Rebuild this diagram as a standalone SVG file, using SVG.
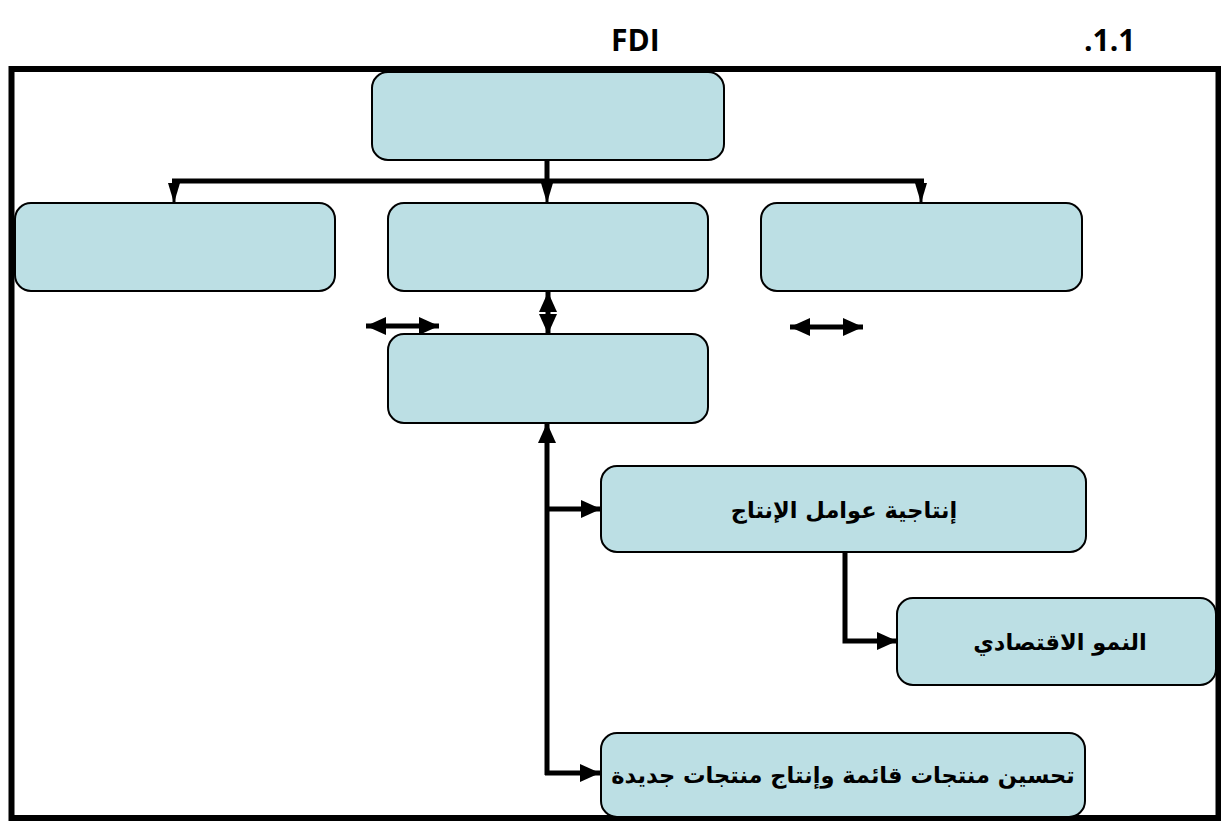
<svg xmlns="http://www.w3.org/2000/svg" width="1221" height="821" viewBox="0 0 1221 821">
<style>
.box{fill:#BCDFE4;stroke:#000;stroke-width:2}
.ln{fill:none;stroke:#000;stroke-width:5}
.thin{fill:none;stroke:#000;stroke-width:3}
.ar{font-family:"DejaVu Sans",sans-serif;font-weight:bold;font-size:22.5px;fill:#000;text-anchor:middle;direction:rtl}
.tt{font-family:"Open Sans","Liberation Sans",sans-serif;font-weight:bold;font-size:30px;fill:#000}
</style>
<defs>
<marker id="ah" markerUnits="userSpaceOnUse" markerWidth="22" markerHeight="22" viewBox="0 0 22 22" refX="20" refY="11" orient="auto-start-reverse">
<path d="M0,2 L20,11 L0,20 Z" fill="#000"/>
</marker>
<marker id="ahn" markerUnits="userSpaceOnUse" markerWidth="22" markerHeight="16" viewBox="0 0 22 16" refX="20" refY="8" orient="auto-start-reverse">
<path d="M0,2 L20,8 L0,14 Z" fill="#000"/>
</marker>
</defs>
<rect x="0" y="0" width="1221" height="821" fill="#fff"/>
<text class="tt" x="611" y="51">FDI</text>
<text class="tt" x="1084" y="51">.1.1</text>
<rect x="11.5" y="69" width="1207" height="749" fill="none" stroke="#000" stroke-width="6"/>
<g id="connectors">
<line class="ln" x1="547" y1="160" x2="547" y2="181"/>
<line class="ln" x1="172" y1="181" x2="924" y2="181" stroke-width="6"/>
<line class="thin" x1="174" y1="181" x2="174" y2="203" marker-end="url(#ahn)"/>
<line class="thin" x1="547" y1="181" x2="547" y2="203" marker-end="url(#ahn)"/>
<line class="thin" x1="921" y1="181" x2="921" y2="203" marker-end="url(#ahn)"/>
<line class="ln" x1="366" y1="326" x2="439" y2="326" marker-start="url(#ah)" marker-end="url(#ah)"/>
<line class="ln" x1="790" y1="327" x2="863" y2="327" marker-start="url(#ah)" marker-end="url(#ah)"/>
<line class="ln" x1="548" y1="292" x2="548" y2="334" marker-start="url(#ah)" marker-end="url(#ah)"/>
<line class="ln" x1="547" y1="423" x2="547" y2="775" marker-start="url(#ah)"/>
<line class="ln" x1="545" y1="509" x2="601" y2="509" marker-end="url(#ah)"/>
<line class="ln" x1="545" y1="773" x2="600" y2="773" marker-end="url(#ah)"/>
<path class="ln" d="M845,552 L845,641 L897,641" marker-end="url(#ah)"/>
</g>
<g id="n-top"><rect class="box" x="372" y="72" width="352" height="88" rx="16"/></g>
<g id="n-left"><rect class="box" x="15" y="203" width="320" height="88" rx="16"/></g>
<g id="n-mid"><rect class="box" x="388" y="203" width="320" height="88" rx="16"/></g>
<g id="n-right"><rect class="box" x="761" y="203" width="321" height="88" rx="16"/></g>
<g id="n-center"><rect class="box" x="388" y="334" width="320" height="89" rx="16"/></g>
<g id="n-prod"><rect class="box" x="601" y="466" width="485" height="86" rx="16"/>
<text class="ar" x="844" y="518">إنتاجية عوامل الإنتاج</text></g>
<g id="n-growth"><rect class="box" x="897" y="598" width="319" height="87" rx="16"/>
<text class="ar" x="1060" y="650">النمو الاقتصادي</text></g>
<g id="n-products"><rect class="box" x="601" y="733" width="484" height="84" rx="16"/>
<text class="ar" x="843" y="783">تحسين منتجات قائمة وإنتاج منتجات جديدة</text></g>
</svg>
